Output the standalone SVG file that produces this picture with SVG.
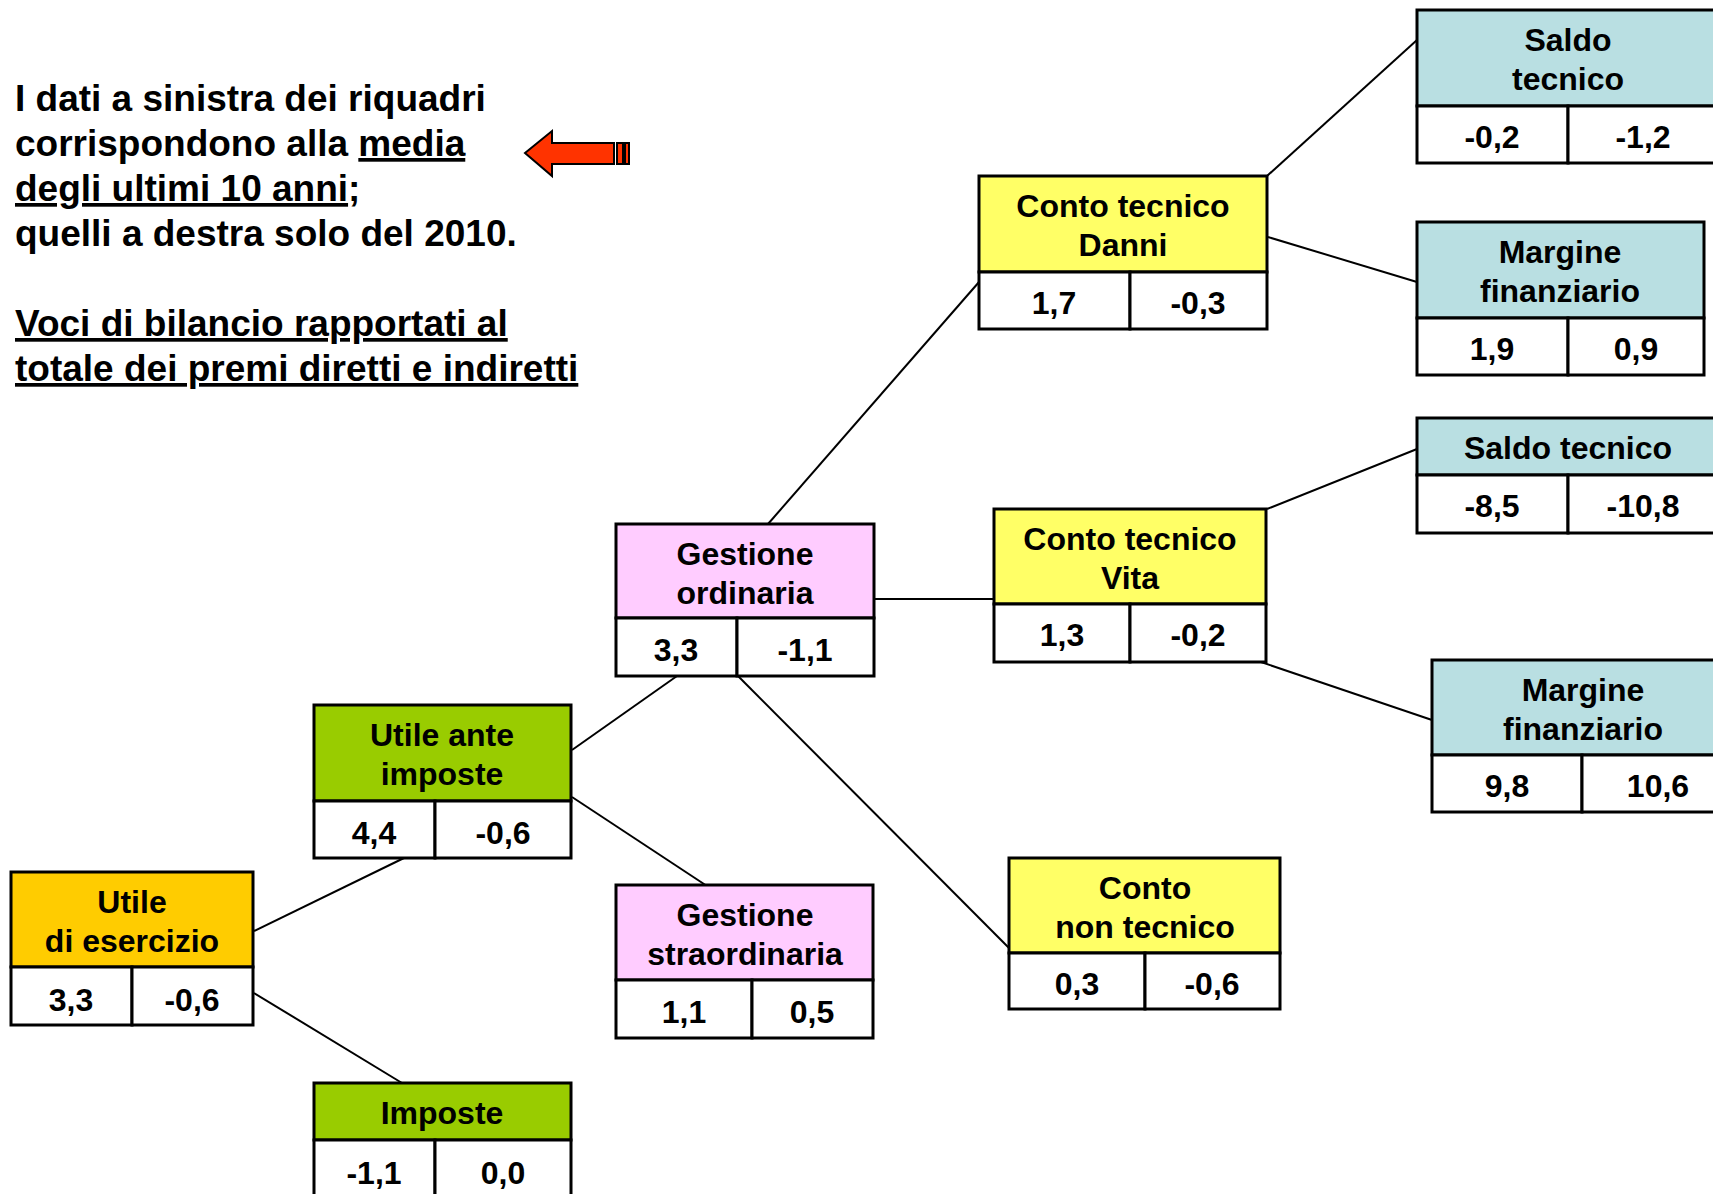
<svg xmlns="http://www.w3.org/2000/svg" width="1713" height="1194" viewBox="0 0 1713 1194">
<style>
.t{font-family:"Liberation Sans",Arial,sans-serif;font-weight:bold;font-size:32px;fill:#000;text-anchor:middle}
.note{font-family:"Liberation Sans",Arial,sans-serif;font-weight:bold;font-size:37px;fill:#000}
.box{stroke:#000;stroke-width:3}
.val{fill:#fff;stroke:#000;stroke-width:3}
.yel{fill:#FFFF66}
.blu{fill:#B9DFE2}
.pnk{fill:#FFCCFF}
.grn{fill:#99CC00}
.org{fill:#FFCC00}
.con line{stroke:#000;stroke-width:2}
</style>
<rect width="1713" height="1194" fill="#fff"/>
<g id="note">
<text class="note" x="15" y="111">I dati a sinistra dei riquadri</text>
<text class="note" x="15" y="156">corrispondono alla <tspan text-decoration="underline">media</tspan></text>
<text class="note" x="15" y="201"><tspan text-decoration="underline">degli ultimi 10 anni</tspan>;</text>
<text class="note" x="15" y="246">quelli a destra solo del 2010.</text>
<text class="note" x="15" y="336" text-decoration="underline">Voci di bilancio rapportati al</text>
<text class="note" x="15" y="381" text-decoration="underline">totale dei premi diretti e indiretti</text>
</g>
<g id="arrow" fill="#FF3300" stroke="#000" stroke-width="2">
<polygon points="525,153 552,131 552,143 614,143 614,164 552,164 552,176"/>
<rect x="617" y="143" width="6" height="21"/>
<rect x="625" y="143" width="4" height="21"/>
</g>
<g id="connectors" class="con">
<line x1="254" y1="931" x2="404" y2="858"/>
<line x1="254" y1="993" x2="402" y2="1083"/>
<line x1="572" y1="750" x2="677" y2="676"/>
<line x1="572" y1="797" x2="707" y2="886"/>
<line x1="768" y1="524" x2="979" y2="282"/>
<line x1="874" y1="599" x2="994" y2="599"/>
<line x1="738" y1="676" x2="1009" y2="948"/>
<line x1="1267" y1="176" x2="1417" y2="40"/>
<line x1="1268" y1="237" x2="1417" y2="282"/>
<line x1="1267" y1="509" x2="1417" y2="449"/>
<line x1="1252" y1="659" x2="1432" y2="720"/>
</g>
<g id="saldo-tecnico-danni">
<rect class="box blu" x="1417" y="10" width="302" height="96"/>
<rect class="val" x="1417" y="106" width="151" height="57"/>
<rect class="val" x="1568" y="106" width="151" height="57"/>
<text class="t" x="1568" y="51">Saldo</text>
<text class="t" x="1568" y="90">tecnico</text>
<text class="t" x="1492" y="148">-0,2</text>
<text class="t" x="1643" y="148">-1,2</text>
</g>
<g id="margine-finanziario-danni">
<rect class="box blu" x="1417" y="222" width="287" height="96"/>
<rect class="val" x="1417" y="318" width="151" height="57"/>
<rect class="val" x="1568" y="318" width="136" height="57"/>
<text class="t" x="1560" y="263">Margine</text>
<text class="t" x="1560" y="302">finanziario</text>
<text class="t" x="1492" y="360">1,9</text>
<text class="t" x="1636" y="360">0,9</text>
</g>
<g id="conto-tecnico-danni">
<rect class="box yel" x="979" y="176" width="288" height="96"/>
<rect class="val" x="979" y="272" width="151" height="57"/>
<rect class="val" x="1130" y="272" width="137" height="57"/>
<text class="t" x="1123" y="217">Conto tecnico</text>
<text class="t" x="1123" y="256">Danni</text>
<text class="t" x="1054" y="314">1,7</text>
<text class="t" x="1198" y="314">-0,3</text>
</g>
<g id="saldo-tecnico-vita">
<rect class="box blu" x="1417" y="418" width="302" height="57"/>
<rect class="val" x="1417" y="475" width="151" height="58"/>
<rect class="val" x="1568" y="475" width="151" height="58"/>
<text class="t" x="1568" y="459">Saldo tecnico</text>
<text class="t" x="1492" y="517">-8,5</text>
<text class="t" x="1643" y="517">-10,8</text>
</g>
<g id="conto-tecnico-vita">
<rect class="box yel" x="994" y="509" width="272" height="95"/>
<rect class="val" x="994" y="604" width="136" height="58"/>
<rect class="val" x="1130" y="604" width="136" height="58"/>
<text class="t" x="1130" y="550">Conto tecnico</text>
<text class="t" x="1130" y="589">Vita</text>
<text class="t" x="1062" y="646">1,3</text>
<text class="t" x="1198" y="646">-0,2</text>
</g>
<g id="margine-finanziario-vita">
<rect class="box blu" x="1432" y="660" width="302" height="95"/>
<rect class="val" x="1432" y="755" width="150" height="57"/>
<rect class="val" x="1582" y="755" width="152" height="57"/>
<text class="t" x="1583" y="701">Margine</text>
<text class="t" x="1583" y="740">finanziario</text>
<text class="t" x="1507" y="797">9,8</text>
<text class="t" x="1658" y="797">10,6</text>
</g>
<g id="gestione-ordinaria">
<rect class="box pnk" x="616" y="524" width="258" height="94"/>
<rect class="val" x="616" y="618" width="121" height="58"/>
<rect class="val" x="737" y="618" width="137" height="58"/>
<text class="t" x="745" y="565">Gestione</text>
<text class="t" x="745" y="604">ordinaria</text>
<text class="t" x="676" y="661">3,3</text>
<text class="t" x="805" y="661">-1,1</text>
</g>
<g id="conto-non-tecnico">
<rect class="box yel" x="1009" y="858" width="271" height="95"/>
<rect class="val" x="1009" y="953" width="136" height="56"/>
<rect class="val" x="1145" y="953" width="135" height="56"/>
<text class="t" x="1145" y="899">Conto</text>
<text class="t" x="1145" y="938">non tecnico</text>
<text class="t" x="1077" y="995">0,3</text>
<text class="t" x="1212" y="995">-0,6</text>
</g>
<g id="utile-ante-imposte">
<rect class="box grn" x="314" y="705" width="257" height="96"/>
<rect class="val" x="314" y="801" width="121" height="57"/>
<rect class="val" x="435" y="801" width="136" height="57"/>
<text class="t" x="442" y="746">Utile ante</text>
<text class="t" x="442" y="785">imposte</text>
<text class="t" x="374" y="844">4,4</text>
<text class="t" x="503" y="844">-0,6</text>
</g>
<g id="gestione-straordinaria">
<rect class="box pnk" x="616" y="885" width="257" height="95"/>
<rect class="val" x="616" y="980" width="136" height="58"/>
<rect class="val" x="752" y="980" width="121" height="58"/>
<text class="t" x="745" y="926">Gestione</text>
<text class="t" x="745" y="965">straordinaria</text>
<text class="t" x="684" y="1023">1,1</text>
<text class="t" x="812" y="1023">0,5</text>
</g>
<g id="utile-di-esercizio">
<rect class="box org" x="11" y="872" width="242" height="95"/>
<rect class="val" x="11" y="967" width="121" height="58"/>
<rect class="val" x="132" y="967" width="121" height="58"/>
<text class="t" x="132" y="913">Utile</text>
<text class="t" x="132" y="952">di esercizio</text>
<text class="t" x="71" y="1011">3,3</text>
<text class="t" x="192" y="1011">-0,6</text>
</g>
<g id="imposte">
<rect class="box grn" x="314" y="1083" width="257" height="57"/>
<rect class="val" x="314" y="1140" width="121" height="58"/>
<rect class="val" x="435" y="1140" width="136" height="58"/>
<text class="t" x="442" y="1124">Imposte</text>
<text class="t" x="374" y="1184">-1,1</text>
<text class="t" x="503" y="1184">0,0</text>
</g>
</svg>
